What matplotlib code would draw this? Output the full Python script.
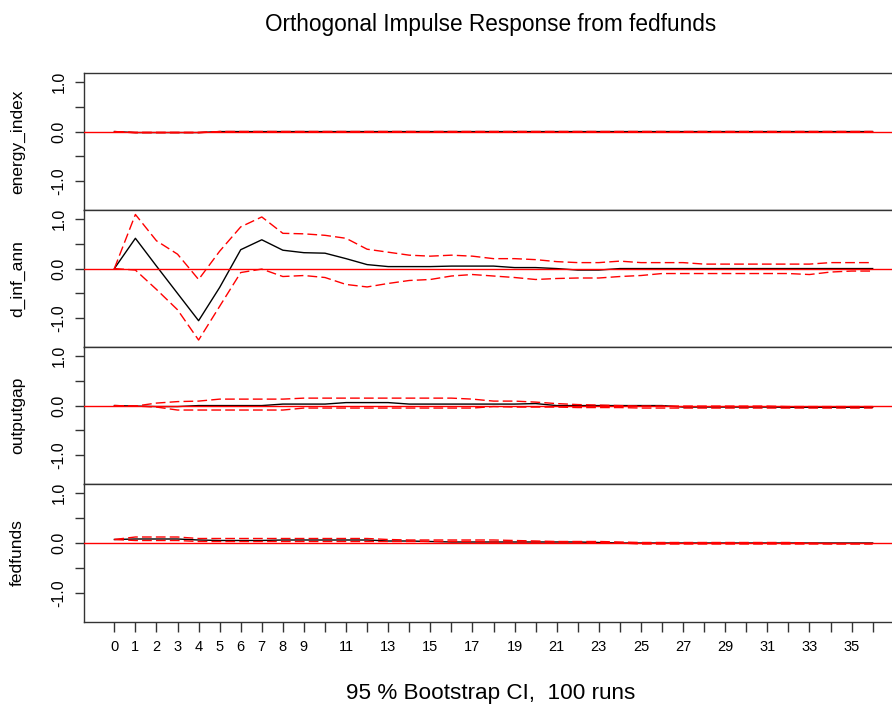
import matplotlib
matplotlib.use("Agg")
import matplotlib.pyplot as plt

plt.rcParams['font.family'] = ['Liberation Sans', 'DejaVu Sans']

# 数据：正交脉冲响应 (fedfunds 冲击)，步数 0..36
steps = list(range(37))
var_names = ['energy_index', 'd_inf_ann', 'outputgap', 'fedfunds']

energy_irf = [0, -0.02, -0.02, -0.02, -0.02] + [0] * 32
energy_lower = [0, -0.025, -0.025, -0.025, -0.025] + [0] * 32
energy_upper = [0, -0.015, -0.015, -0.015, -0.015] + [0] * 32

inf_irf = [0, 0.61, 0.05, -0.5, -1.05, -0.38, 0.38, 0.58, 0.37, 0.32, 0.31, 0.2,
           0.08, 0.04, 0.04, 0.04, 0.05, 0.05, 0.05, 0.02, 0.02, 0.0, -0.03, -0.03,
           0.0, 0, 0, 0, 0, 0, 0, 0, 0, 0, 0, 0, 0]
inf_upper = [0, 1.09, 0.56, 0.29, -0.22, 0.35, 0.84, 1.04, 0.71, 0.70, 0.67, 0.61,
             0.39, 0.33, 0.27, 0.25, 0.27, 0.25, 0.2, 0.2, 0.18, 0.14, 0.12, 0.12,
             0.15, 0.12, 0.12, 0.12, 0.09, 0.09, 0.09, 0.09, 0.09, 0.09, 0.12, 0.12, 0.12]
inf_lower = [0, -0.03, -0.42, -0.83, -1.44, -0.76, -0.08, -0.01, -0.16, -0.14, -0.18, -0.32,
             -0.37, -0.30, -0.24, -0.22, -0.15, -0.12, -0.15, -0.18, -0.22, -0.2, -0.19, -0.19,
             -0.16, -0.14, -0.1, -0.1, -0.1, -0.1, -0.1, -0.1, -0.1, -0.12, -0.07, -0.05, -0.05]

gap_irf = [0, -0.01, -0.02, -0.02, 0.0, 0.0, 0.0, 0.0, 0.03, 0.03, 0.03, 0.06,
           0.06, 0.06, 0.03, 0.03, 0.03, 0.03, 0.03, 0.03, 0.04, 0.0, 0.0, 0.0,
           0.0, 0.0, 0.0, -0.03, -0.03, -0.03, -0.03, -0.03, -0.035, -0.035, -0.035, -0.035, -0.035]
gap_upper = [0, -0.01, 0.05, 0.08, 0.09, 0.13, 0.13, 0.13, 0.13, 0.15, 0.15, 0.15,
             0.15, 0.15, 0.15, 0.15, 0.15, 0.13, 0.09, 0.09, 0.07, 0.04, 0.02, 0.01,
             0.0, -0.01, -0.01, -0.01, -0.01, -0.01, -0.01, -0.01, -0.02, -0.02, -0.02, -0.02, -0.02]
gap_lower = [0, -0.01, -0.03, -0.09, -0.09, -0.09, -0.09, -0.09, -0.09, -0.05, -0.05, -0.05,
             -0.05, -0.05, -0.05, -0.05, -0.05, -0.05, -0.02, -0.03, -0.03, -0.03, -0.04, -0.04,
             -0.04, -0.05, -0.05, -0.05, -0.05, -0.05, -0.05, -0.05, -0.05, -0.05, -0.05, -0.05, -0.05]

ff_irf = [0.07, 0.08, 0.08, 0.08, 0.06, 0.05, 0.05, 0.05, 0.06, 0.06, 0.06, 0.06,
          0.06, 0.04, 0.04, 0.03, 0.02, 0.02, 0.02, 0.02, 0.02, 0.02, 0.02, 0.01,
          0.0, 0, 0, 0, 0, 0, 0, 0, 0, 0, 0, 0, 0]
ff_upper = [0.07, 0.12, 0.12, 0.12, 0.09, 0.09, 0.09, 0.09, 0.09, 0.09, 0.09, 0.09,
            0.09, 0.07, 0.06, 0.06, 0.06, 0.06, 0.06, 0.05, 0.04, 0.03, 0.03, 0.03,
            0.02, 0.01, 0.01, 0.01, 0.01, 0.01, 0.01, 0.01, 0.01, 0.0, -0.01, -0.01, -0.01]
ff_lower = [0.07, 0.05, 0.05, 0.05, 0.03, 0.03, 0.03, 0.03, 0.03, 0.03, 0.03, 0.03,
            0.03, 0.03, 0.03, 0.03, 0.03, 0.03, 0.02, 0.02, 0.02, 0.02, 0.02, 0.01,
            0.0, -0.02, -0.02, -0.02, -0.02, -0.02, -0.02, -0.02, -0.02, -0.02, -0.02, -0.02, -0.02]

irfs = [energy_irf, inf_irf, gap_irf, ff_irf]
lowers = [energy_lower, inf_lower, gap_lower, ff_lower]
uppers = [energy_upper, inf_upper, gap_upper, ff_upper]

# x 轴只显示部分标签（其余刻度保留）
xtick_labels = [str(s) if (s <= 9 or (s % 2 == 1 and s <= 35)) else '' for s in steps]

W, H = 892, 717
fig = plt.figure(figsize=(W / 100, H / 100), dpi=100)

left_px, right_px = 84, 903
tops = [73, 210, 347, 484]
bottoms = [210, 347, 484, 622]

axes = []
for i in range(4):
    ax = fig.add_axes([left_px / W, 1 - bottoms[i] / H,
                       (right_px - left_px) / W, (bottoms[i] - tops[i]) / H])
    ax.plot(steps, irfs[i], color='black', lw=1.0, zorder=2)
    ax.plot(steps, lowers[i], color='red', lw=1.0, linestyle=(0, (7, 3)), zorder=3)
    ax.plot(steps, uppers[i], color='red', lw=1.0, linestyle=(0, (7, 3)), zorder=3)
    ax.axhline(0, color='red', lw=1.0, zorder=4)

    ax.set_xlim(-1.44, 37.44)
    ax.set_ylim(-1.58, 1.18)
    ax.set_yticks([-1.0, -0.5, 0.0, 0.5, 1.0])
    ax.set_yticklabels(['-1.0', '', '0.0', '', '1.0'], rotation=90, va='center')
    ax.tick_params(axis='y', direction='out', length=6.5, width=1.0,
                   labelsize=11.5, pad=6, color='#333333')
    ax.set_ylabel(var_names[i], fontsize=12.5, rotation=90)
    ax.yaxis.set_label_coords(-59 / (right_px - left_px), 0.5)

    for sp in ax.spines.values():
        sp.set_color('#333333')
        sp.set_linewidth(1.0)

    if i < 3:
        ax.set_xticks([])
    else:
        ax.set_xticks(steps)
        ax.set_xticklabels(xtick_labels)
        ax.tick_params(axis='x', direction='out', length=7.2, width=1.0,
                       labelsize=10.5, pad=6, color='#333333')
    axes.append(ax)

fig.text(491 / W, 1 - 25 / H, 'Orthogonal Impulse Response from fedfunds',
         ha='center', va='center', fontsize=16.3)
fig.text(491 / W, 1 - 693 / H, '95 % Bootstrap CI,  100 runs',
         ha='center', va='center', fontsize=16.2)

fig.savefig('out.png', dpi=100)
plt.close(fig)
